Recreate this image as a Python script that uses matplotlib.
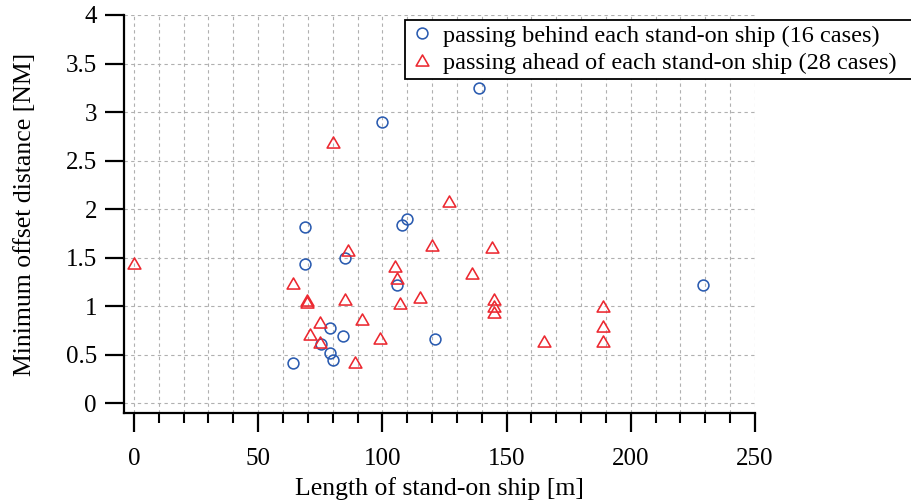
import matplotlib
matplotlib.use("Agg")
import matplotlib.pyplot as plt
from matplotlib.path import Path
from matplotlib.ticker import MultipleLocator, FixedLocator

# ---- data ----
behind_len = [64, 69, 69, 79, 75.5, 79, 80, 84, 85, 108, 110, 106, 121, 100, 139, 229]
behind_dist = [0.41, 1.82, 1.44, 0.78, 0.61, 0.52, 0.45, 0.69, 1.50, 1.84, 1.90, 1.22, 0.66, 2.90, 3.25, 1.22]

ahead_len = [0, 64, 69.5, 69.5, 75, 71, 75, 86, 85, 92, 89, 99, 105, 106, 107, 115,
             80, 127, 120, 144, 136, 145, 145, 145, 165, 189, 189, 189]
ahead_dist = [1.45, 1.24, 1.06, 1.04, 0.84, 0.71, 0.63, 1.58, 1.07, 0.87, 0.43, 0.67, 1.41, 1.29, 1.03, 1.10,
              2.69, 2.08, 1.63, 1.61, 1.34, 1.07, 1.00, 0.94, 0.64, 1.00, 0.80, 0.64]

label_behind = "passing behind each stand-on ship (16 cases)"
label_ahead = "passing ahead of each stand-on ship (28 cases)"
xlabel = "Length of stand-on ship [m]"
ylabel = "Minimum offset distance [NM]"
xticks = [0, 50, 100, 150, 200, 250]
yticks = [0, 0.5, 1, 1.5, 2, 2.5, 3, 3.5, 4]
ytick_labels = ["0", "0.5", "1", "1.5", "2", "2.5", "3", "3.5", "4"]

plt.rcParams['font.family'] = ['Liberation Serif', 'DejaVu Serif']
plt.rcParams['font.size'] = 17.5

blue = '#2a5bb0'
red = '#ec2830'

tri = Path([(0, 0.866), (-1, -0.866), (1, -0.866), (0, 0.866)],
           [Path.MOVETO, Path.LINETO, Path.LINETO, Path.CLOSEPOLY])

fig = plt.figure(figsize=(9.11, 5.0), dpi=100)
ax = fig.add_axes([124/911, 1-413/500, (755-124)/911, (413-15)/500])

ax.plot(behind_len, behind_dist, linestyle='none', marker='o', markersize=7.8,
        markerfacecolor='none', markeredgecolor=blue, markeredgewidth=1.15,
        label=label_behind, zorder=3)
ax.plot(ahead_len, ahead_dist, linestyle='none', marker=tri, markersize=9.2,
        markerfacecolor='none', markeredgecolor=red, markeredgewidth=1.15,
        label=label_ahead, zorder=3)

ax.set_xlim(-4, 250)
ax.set_ylim(-0.1, 4)
ax.xaxis.set_major_locator(FixedLocator(xticks))
ax.xaxis.set_minor_locator(MultipleLocator(10))
ax.set_yticks(yticks)
ax.set_yticklabels(ytick_labels)

for s in ['top', 'right']:
    ax.spines[s].set_visible(False)
for s in ['left', 'bottom']:
    ax.spines[s].set_linewidth(1.6)

ax.tick_params(axis='both', labelsize=18)
ax.tick_params(axis='x', which='major', direction='out', length=13.5, width=1.6, pad=12)
ax.tick_params(axis='x', which='minor', direction='out', length=7, width=1.5)
ax.tick_params(axis='y', which='major', direction='out', length=13.5, width=1.6, pad=6)

grid_kw = dict(color='#b0b0b0', linestyle=(0, (3, 3)), linewidth=0.8)
ax.grid(True, axis='x', which='both', **grid_kw)
ax.grid(True, axis='y', which='major', **grid_kw)
ax.set_axisbelow(True)

ax.set_xlabel(xlabel, labelpad=4.5, fontsize=18.5)
ax.set_ylabel(ylabel, labelpad=21, fontsize=18.5)

leg = fig.legend(loc='upper left', bbox_to_anchor=(405/911, 1-20/500, (930-405)/911, 0),
                 bbox_transform=fig.transFigure, mode='expand', frameon=True, fancybox=False,
                 edgecolor='black', framealpha=1, handlelength=1.0,
                 handletextpad=0.35, borderpad=0.2, labelspacing=0.2,
                 borderaxespad=0)
leg.get_frame().set_linewidth(1.3)

fig.savefig('out.png', dpi=100)
